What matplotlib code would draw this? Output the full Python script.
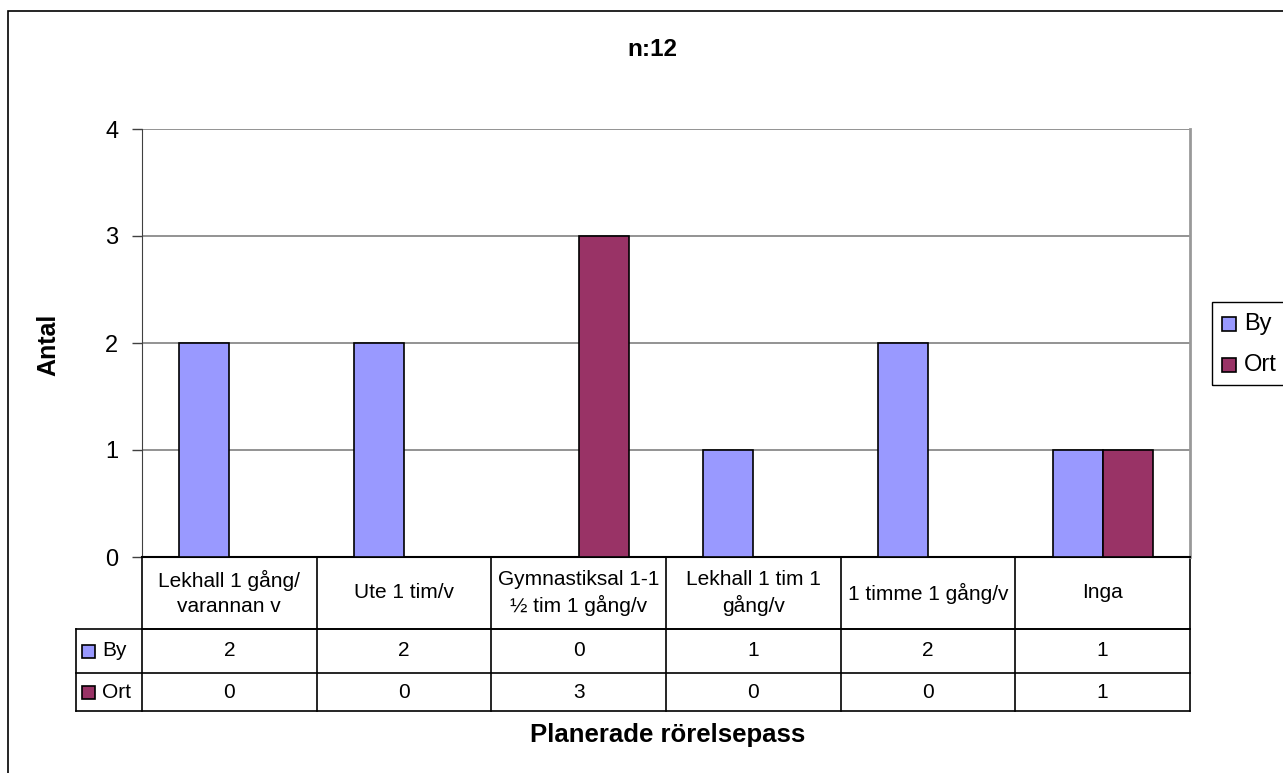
import matplotlib
matplotlib.use("Agg")
import matplotlib.pyplot as plt
from matplotlib.patches import Rectangle
from matplotlib.transforms import blended_transform_factory

plt.rcParams["font.family"] = ["Liberation Sans", "DejaVu Sans"]

categories = [
    "Lekhall 1 gång/\nvarannan v",
    "Ute 1 tim/v",
    "Gymnastiksal 1-1\n½ tim 1 gång/v",
    "Lekhall 1 tim 1\ngång/v",
    "1 timme 1 gång/v",
    "Inga",
]
series_names = ["By", "Ort"]
by_values = [2, 2, 0, 1, 2, 1]
ort_values = [0, 0, 3, 0, 0, 1]
colors = ["#9999FF", "#993366"]
y_ticks = [0, 1, 2, 3, 4]

W, H = 1283, 773
fig = plt.figure(figsize=(W / 100, H / 100), dpi=100)


def fx(px):
    return px / W


def fy(py):
    return 1 - py / H


# outer chart frame (runs off the right and bottom edge)
fig.patches.append(Rectangle((fx(8), -0.05), 1.2, fy(11) + 0.05,
                             transform=fig.transFigure, fill=False,
                             edgecolor="black", linewidth=1.2))

left, right, top, bottom = 142, 1190, 129, 557
ax = fig.add_axes([fx(left), fy(bottom), (right - left) / W, (bottom - top) / H])

n = len(categories)
bar_w = 0.286
xs = list(range(n))
for k, (vals, col) in enumerate(zip([by_values, ort_values], colors)):
    offs = -bar_w / 2 if k == 0 else bar_w / 2
    ax.bar([x + offs for x in xs], vals, width=bar_w, color=col,
           edgecolor="black", linewidth=1.2, zorder=3)

ax.set_xlim(-0.5, n - 0.5)
ax.set_ylim(0, 4)
ax.set_yticks(y_ticks)
ax.set_yticklabels([str(t) for t in y_ticks], fontsize=17)
ax.tick_params(axis="y", direction="out", length=7, width=1, color="#404040", pad=10)
ax.set_xticks([])
ax.grid(axis="y", color="#808080", linewidth=1.2, zorder=0)
ax.spines["top"].set_visible(False)
ax.spines["right"].set_color("#999999")
ax.spines["right"].set_linewidth(2)
ax.spines["left"].set_color("#404040")
ax.spines["bottom"].set_color("black")
ax.spines["bottom"].set_linewidth(1.5)

fig.text(fx(652), fy(50), "n:12", ha="center", va="center",
         fontsize=17.5, fontweight="bold")
fig.text(fx(48), fy(345), "Antal", ha="center", va="center", rotation=90,
         fontsize=18, fontweight="bold")

# data table under the plot area
tr = blended_transform_factory(ax.transData, ax.transAxes)
ph = bottom - top


def ay(py):
    return (bottom - py) / ph


row_cat, row_by, row_ort = ay(629), ay(673), ay(711)
col_x0 = -0.5 + (76 - left) * n / (right - left)
px_x = n / (right - left)  # data units per pixel along x
line_kw = dict(color="black", linewidth=1.2, clip_on=False, transform=tr)
ax.plot([-0.5, n - 0.5], [row_cat, row_cat], **line_kw)
ax.plot([col_x0, n - 0.5], [row_cat, row_cat], **line_kw)
ax.plot([col_x0, n - 0.5], [row_by, row_by], **line_kw)
ax.plot([col_x0, n - 0.5], [row_ort, row_ort], **line_kw)
ax.plot([col_x0, col_x0], [row_cat, row_ort], **line_kw)
for i in range(n + 1):
    ax.plot([i - 0.5, i - 0.5], [0, row_ort], **line_kw)

for i, cat in enumerate(categories):
    ax.text(i, (0 + row_cat) / 2, cat, transform=tr, ha="center", va="center",
            fontsize=15, linespacing=1.4)
    ax.text(i, (row_cat + row_by) / 2, str(by_values[i]), transform=tr,
            ha="center", va="center", fontsize=15)
    ax.text(i, (row_by + row_ort) / 2, str(ort_values[i]), transform=tr,
            ha="center", va="center", fontsize=15)

for name, col, (y0, y1) in zip(series_names, colors,
                               [(row_cat, row_by), (row_by, row_ort)]):
    yc = (y0 + y1) / 2
    ax.add_patch(Rectangle((col_x0 + 6 * px_x, yc - 6.5 / ph), 13 * px_x, 13 / ph,
                           transform=tr, facecolor=col, edgecolor="black",
                           linewidth=1.2, clip_on=False))
    ax.text(col_x0 + 26 * px_x, yc, name, transform=tr, ha="left",
            va="center", fontsize=15)

fig.text(fx(668), fy(735), "Planerade rörelsepass", ha="center", va="center",
         fontsize=18.5, fontweight="bold")

# legend box on the right
fig.patches.append(Rectangle((fx(1212), fy(385)), 0.2, 83 / H,
                             transform=fig.transFigure, fill=False,
                             edgecolor="black", linewidth=1))
for name, col, py in zip(series_names, colors, [324, 365]):
    fig.patches.append(Rectangle((fx(1222), fy(py + 7)), 14 / W, 14 / H,
                                 transform=fig.transFigure, facecolor=col,
                                 edgecolor="black", linewidth=1.2))
    fig.text(fx(1244), fy(py), name, ha="left", va="center", fontsize=17)

fig.savefig("out.png", dpi=100)
